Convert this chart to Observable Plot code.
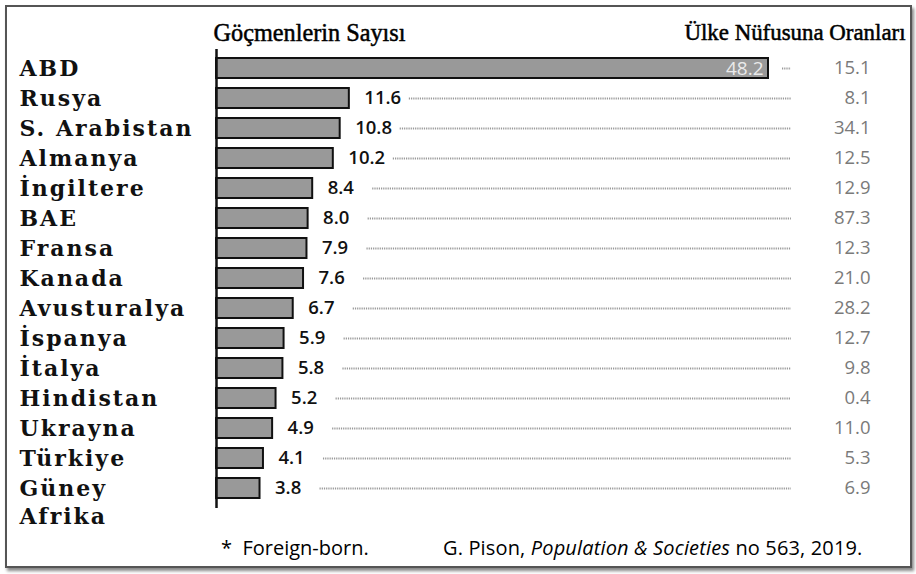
<!DOCTYPE html>
<html><head><meta charset="utf-8">
<script src="https://cdn.jsdelivr.net/npm/d3@7"></script>
<script src="https://cdn.jsdelivr.net/npm/@observablehq/plot@0.6"></script>
<style>
body{margin:0;background:#fff;}
#wrap{position:relative;width:916px;height:574px;overflow:hidden;background:#fff;}
#frame{position:absolute;left:5px;top:5px;width:903px;height:559px;border:2px solid #555;box-shadow:2px 3px 3px #888;pointer-events:none;}
.foot{position:absolute;top:538px;line-height:20px;font-family:"Open Sans",sans-serif;font-size:20px;color:#000;white-space:nowrap;}
svg{position:absolute;left:0;top:0;}
</style></head>
<body><div id="wrap"><div id="frame"></div>
<div class="foot" style="left:221px">*&nbsp; Foreign-born.</div>
<div class="foot" style="left:443px;letter-spacing:0.15px">G. Pison, <i>Population &amp; Societies</i> no 563, 2019.</div>
</div>
<script>
const countries = ["ABD","Rusya","S. Arabistan","Almanya","İngiltere","BAE","Fransa","Kanada","Avusturalya","İspanya","İtalya","Hindistan","Ukrayna","Türkiye","Güney Afrika"];
const migrants = [48.2,11.6,10.8,10.2,8.4,8.0,7.9,7.6,6.7,5.9,5.8,5.2,4.9,4.1,3.8];
const shares = [15.1,8.1,34.1,12.5,12.9,87.3,12.3,21.0,28.2,12.7,9.8,0.4,11.0,5.3,6.9];
const leftTitle = "Göçmenlerin Sayısı";
const rightTitle = "Ülke Nüfusuna Oranları";
const dotEnd = 50.2;

const data = countries.map((c, i) => ({country: c, value: migrants[i], share: shares[i]}));
const first = data.slice(0, 1);
const rest = data.slice(1);

const chart = Plot.plot({
  width: 916, height: 574,
  marginLeft: 216, marginRight: 148, marginTop: 49, marginBottom: 66,
  x: {domain: [0, 48.2], axis: null},
  y: {domain: countries, paddingInner: 0.32, paddingOuter: 0.13, axis: null},
  style: {background: "transparent", overflow: "visible"},
  marks: [
    Plot.ruleY(rest, {y: "country", x1: "value", x2: () => dotEnd, insetLeft: 60, stroke: "#999", strokeWidth: 2, strokeDasharray: "1.2,1"}),
    Plot.ruleY(first, {y: "country", x1: "value", x2: () => dotEnd, insetLeft: 14, stroke: "#999", strokeWidth: 2, strokeDasharray: "1.2,1"}),
    Plot.barX(data, {y: "country", x: "value", fill: "#999", stroke: "#111", strokeWidth: 2}),
    Plot.ruleX([0], {stroke: "#111", strokeWidth: 2.5}),
    Plot.text(rest, {y: "country", x: "value", text: d => d.value.toFixed(1), textAnchor: "start", dx: 15, fill: "#111", fontSize: 18.5, fontWeight: 600, fontFamily: "Open Sans"}),
    Plot.text(first, {y: "country", x: "value", text: d => d.value.toFixed(1), textAnchor: "end", dx: -5, fill: "#eaeaea", fontSize: 19, fontFamily: "Open Sans"}),
    Plot.text(data, {y: "country", frameAnchor: "right", dx: 102, text: d => d.share.toFixed(1), textAnchor: "end", fill: "#7a7a7a", fontSize: 18.5, fontFamily: "Open Sans"}),
    Plot.text(data, {y: "country", frameAnchor: "left", dx: -197, text: d => d.country === "Güney Afrika" ? "Güney\nAfrika" : d.country, textAnchor: "start", lineAnchor: "top", dy: -12, lineHeight: 1.27, fill: "#111", fontSize: 22, fontWeight: "bold", fontFamily: "DejaVu Serif"}),
    Plot.text([leftTitle], {frameAnchor: "top-left", lineAnchor: "middle", dx: -3, dy: -17, textAnchor: "start", fill: "#000", stroke: "#000", strokeWidth: 0.5, fontSize: 25, fontFamily: "Liberation Serif"}),
    Plot.text([rightTitle], {frameAnchor: "top-right", lineAnchor: "middle", dx: 137, dy: -17, textAnchor: "end", fill: "#000", stroke: "#000", strokeWidth: 0.5, fontSize: 23, fontFamily: "Liberation Serif"})
  ]
});
const svg = d3.select(chart);
svg.selectAll("g").filter(function() { return this.getAttribute("font-family") === "DejaVu Serif"; }).style("letter-spacing", "2px");
svg.selectAll("text").filter(function() { return this.textContent === leftTitle; }).attr("textLength", 192).attr("lengthAdjust", "spacingAndGlyphs");
svg.selectAll("text").filter(function() { return this.textContent === rightTitle; }).attr("textLength", 221).attr("lengthAdjust", "spacingAndGlyphs");
document.getElementById("wrap").prepend(chart);
</script>
</body></html>
